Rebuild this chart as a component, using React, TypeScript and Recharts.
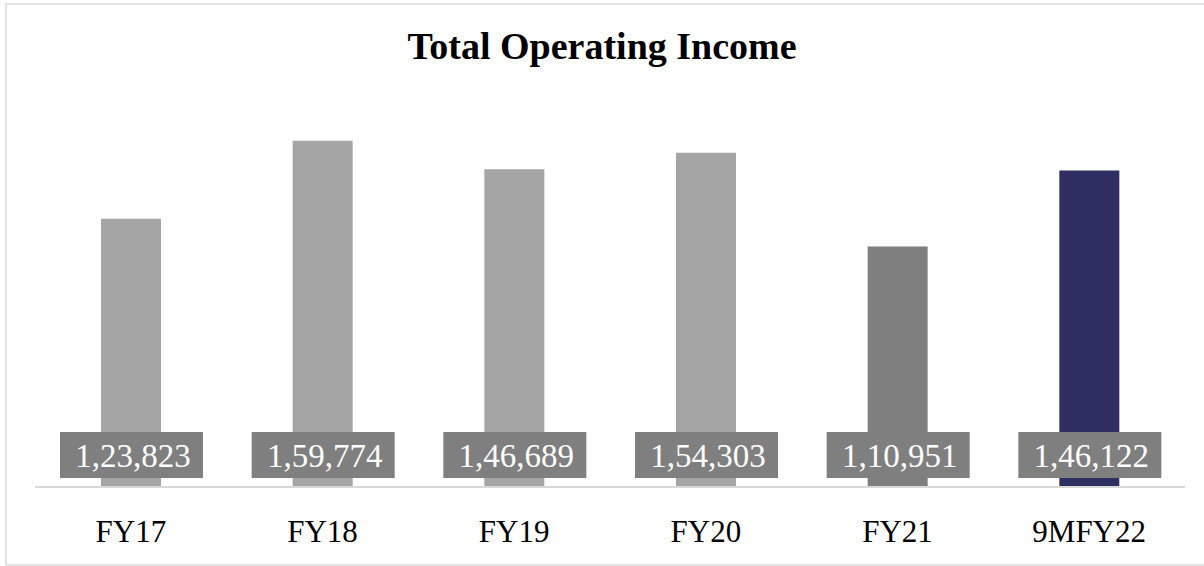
import { BarChart, Bar, XAxis, YAxis, Cell, LabelList } from 'recharts'

const categories = ['FY17', 'FY18', 'FY19', 'FY20', 'FY21', '9MFY22']
const incomeValues = [123823, 159774, 146689, 154303, 110951, 146122]
const barColors = ['#a5a5a5', '#a5a5a5', '#a5a5a5', '#a5a5a5', '#7f7f7f', '#2f2f62']

const data = categories.map((name, i) => ({ name, value: incomeValues[i] }))

const FONT = '"Liberation Serif", "Times New Roman", serif'

// indian grouping: 1,23,823
function formatIndian(n: number) {
  const s = String(Math.round(n))
  if (s.length <= 3) return s
  const last3 = s.slice(-3)
  let rest = s.slice(0, -3)
  const parts: string[] = []
  while (rest.length > 2) {
    parts.unshift(rest.slice(-2))
    rest = rest.slice(0, -2)
  }
  if (rest) parts.unshift(rest)
  return parts.join(',') + ',' + last3
}

function ValueBox(props: any) {
  const { x, y, width, height, value } = props
  const cx = x + width / 2
  const base = y + height
  return (
    <g>
      <rect x={cx - 71} y={base - 55} width={143} height={46} fill="#7f7f7f" />
      <text
        x={cx + 2}
        y={base - 31}
        textAnchor="middle"
        dominantBaseline="central"
        fill="#ffffff"
        fontFamily={FONT}
        fontSize={33}
      >
        {formatIndian(value)}
      </text>
    </g>
  )
}

function CategoryTick(props: any) {
  const { x, y, payload } = props
  return (
    <text
      x={x}
      y={y + 36}
      textAnchor="middle"
      dominantBaseline="central"
      fill="#000000"
      fontFamily={FONT}
      fontSize={31}
    >
      {payload.value}
    </text>
  )
}

export default function App() {
  return (
    <div style={{ position: 'absolute', left: 0, top: 0, width: 1204, height: 566, background: '#fff', overflow: 'hidden' }}>
      <div
        style={{
          position: 'absolute',
          left: 5,
          top: 3,
          width: 1260,
          height: 559,
          border: '2px solid #e3e3e3',
        }}
      />
      <div
        style={{
          position: 'absolute',
          left: 0,
          top: 25,
          width: 1204,
          textAlign: 'center',
          fontFamily: FONT,
          fontWeight: 'bold',
          fontSize: 38,
          lineHeight: '42px',
          color: '#000',
        }}
      >
        Total Operating Income
      </div>
      <div style={{ position: 'absolute', left: 0, top: 0 }}>
        <BarChart
          width={1204}
          height={566}
          data={data}
          margin={{ top: 97, right: 19, bottom: 29, left: 35 }}
        >
          <XAxis
            dataKey="name"
            height={50}
            axisLine={{ stroke: '#d9d9d9', strokeWidth: 2 }}
            tickLine={false}
            tick={<CategoryTick />}
            interval={0}
          />
          <YAxis hide domain={[0, 180000]} />
          <Bar dataKey="value" barSize={60} isAnimationActive={false}>
            {data.map((d, i) => (
              <Cell key={d.name} fill={barColors[i]} />
            ))}
            <LabelList dataKey="value" content={<ValueBox />} />
          </Bar>
        </BarChart>
      </div>
    </div>
  )
}
